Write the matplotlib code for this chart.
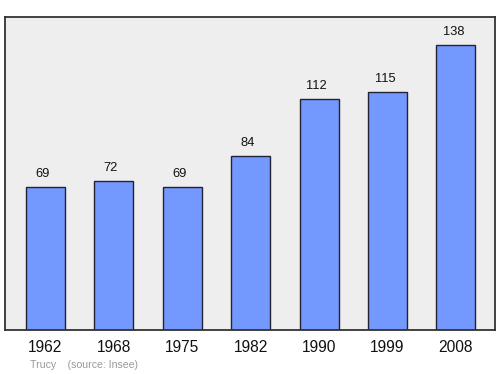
import matplotlib
matplotlib.use("Agg")
import matplotlib.pyplot as plt

years = ["1962", "1968", "1975", "1982", "1990", "1999", "2008"]
population = [69, 72, 69, 84, 112, 115, 138]

plt.rcParams['font.family'] = ['Liberation Sans', 'DejaVu Sans']

fig = plt.figure(figsize=(5, 3.74), dpi=100)
ax = fig.add_axes([5/500, 1 - 330/374, 490/500, 313/374])
ax.set_facecolor('#eeeeee')
x = list(range(len(years)))
ax.bar(x, population, width=0.57, color='#7399ff', edgecolor='#222233', linewidth=1.0, zorder=2)
for xi, v in zip(x, population):
    ax.text(xi - 0.04, v + 6.3, str(v), ha='center', va='center', fontsize=9.3, color='#111111')
ax.set_xlim(-0.59, 6.57)
ax.set_ylim(0, 151.5)
ax.set_yticks([])
ax.set_xticks(x)
ax.set_xticklabels(years, fontsize=11.2, color='#111111')
ax.tick_params(axis='x', length=0, pad=7.5)
for s in ax.spines.values():
    s.set_color('#333333')
    s.set_linewidth(1.3)
fig.text(30/500, 1 - 364.5/374, "Trucy    (source: Insee)", fontsize=7.6, color='#999999', va='center', ha='left')
fig.savefig('out.png', dpi=100)
